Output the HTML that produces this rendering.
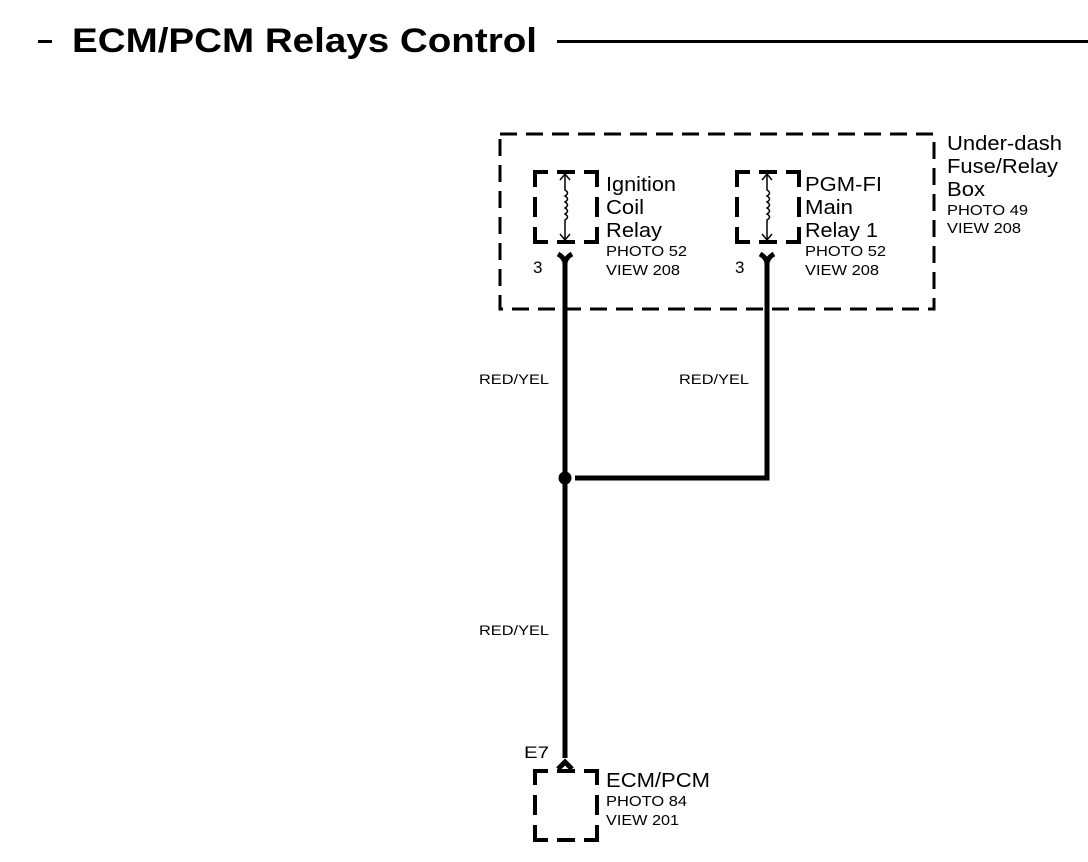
<!DOCTYPE html>
<html><head><style>body{margin:0;background:#fff}svg{display:block}text{font-family:"Liberation Sans",Arial,sans-serif;fill:#000}</style></head>
<body>
<svg width="1088" height="862" viewBox="0 0 1088 862">
<rect x="38" y="40" width="14" height="3"/>
<text x="72" y="52" font-size="34" font-weight="bold" textLength="465" lengthAdjust="spacingAndGlyphs">ECM/PCM Relays Control</text>
<rect x="557" y="40" width="531" height="3"/>
<rect x="500" y="134" width="434" height="175" fill="none" stroke="#000" stroke-width="3" stroke-dasharray="17,9"/>
<g fill="none" stroke="#000" stroke-width="4">
<path d="M535 187V172H548M557 172H575M584 172H597V187M597 197V217M597 227V242H584M575 242H557M548 242H535V227M535 217V197"/>
<path d="M737 187V172H750M759 172H777M786 172H799V187M799 197V217M799 227V242H786M777 242H759M750 242H737V227M737 217V197"/>
<path d="M535 785V771H548M557 771H575M584 771H597V785M597 795V815M597 825V840H584M575 840H557M548 840H535V825M535 815V795"/>
</g>
<g fill="none" stroke="#000" stroke-width="1.5">
<path d="M565 174V190q5 3 0 6q5 3 0 6q5 3 0 6q5 3 0 6q5 3 0 6V240M560 180L565 174L570 180M560 234L565 240L570 234"/>
<path d="M767 174V190q5 3 0 6q5 3 0 6q5 3 0 6q5 3 0 6q5 3 0 6V240M762 180L767 174L772 180M762 234L767 240L772 234"/>
</g>
<g fill="none" stroke="#000" stroke-width="5">
<path d="M558 254Q565 258 565 264V758"/><path d="M572 254Q565 258 565 264"/>
<path d="M760 254Q767 258 767 264V478H575"/><path d="M774 254Q767 258 767 264"/>
<path d="M558 769L565 762L572 769"/>
</g>
<circle cx="565" cy="478" r="6.5"/>
<g font-size="20">
<text x="606" y="191" textLength="70" lengthAdjust="spacingAndGlyphs">Ignition</text><text x="606" y="214" textLength="38" lengthAdjust="spacingAndGlyphs">Coil</text><text x="606" y="237" textLength="56" lengthAdjust="spacingAndGlyphs">Relay</text>
<text x="805" y="191" textLength="77" lengthAdjust="spacingAndGlyphs">PGM-FI</text><text x="805" y="214" textLength="48" lengthAdjust="spacingAndGlyphs">Main</text><text x="805" y="237" textLength="73" lengthAdjust="spacingAndGlyphs">Relay 1</text>
<text x="947" y="150" textLength="115" lengthAdjust="spacingAndGlyphs">Under-dash</text><text x="947" y="173" textLength="111" lengthAdjust="spacingAndGlyphs">Fuse/Relay</text><text x="947" y="196" textLength="38" lengthAdjust="spacingAndGlyphs">Box</text>
<text x="606" y="787" textLength="104" lengthAdjust="spacingAndGlyphs">ECM/PCM</text>
</g>
<g font-size="17">
<text x="533" y="273">3</text><text x="735" y="273">3</text><text x="524" y="758" textLength="25" lengthAdjust="spacingAndGlyphs">E7</text>
</g>
<g font-size="15">
<text x="606" y="256" textLength="81" lengthAdjust="spacingAndGlyphs">PHOTO 52</text><text x="606" y="275" textLength="74" lengthAdjust="spacingAndGlyphs">VIEW 208</text>
<text x="805" y="256" textLength="81" lengthAdjust="spacingAndGlyphs">PHOTO 52</text><text x="805" y="275" textLength="74" lengthAdjust="spacingAndGlyphs">VIEW 208</text>
<text x="947" y="215" textLength="81" lengthAdjust="spacingAndGlyphs">PHOTO 49</text><text x="947" y="233" textLength="74" lengthAdjust="spacingAndGlyphs">VIEW 208</text>
<text x="606" y="806" textLength="81" lengthAdjust="spacingAndGlyphs">PHOTO 84</text><text x="606" y="825" textLength="73" lengthAdjust="spacingAndGlyphs">VIEW 201</text>
</g>
<g font-size="14">
<text x="479" y="384" textLength="70" lengthAdjust="spacingAndGlyphs">RED/YEL</text><text x="679" y="384" textLength="70" lengthAdjust="spacingAndGlyphs">RED/YEL</text><text x="479" y="635" textLength="70" lengthAdjust="spacingAndGlyphs">RED/YEL</text>
</g>
</svg>
</body></html>
